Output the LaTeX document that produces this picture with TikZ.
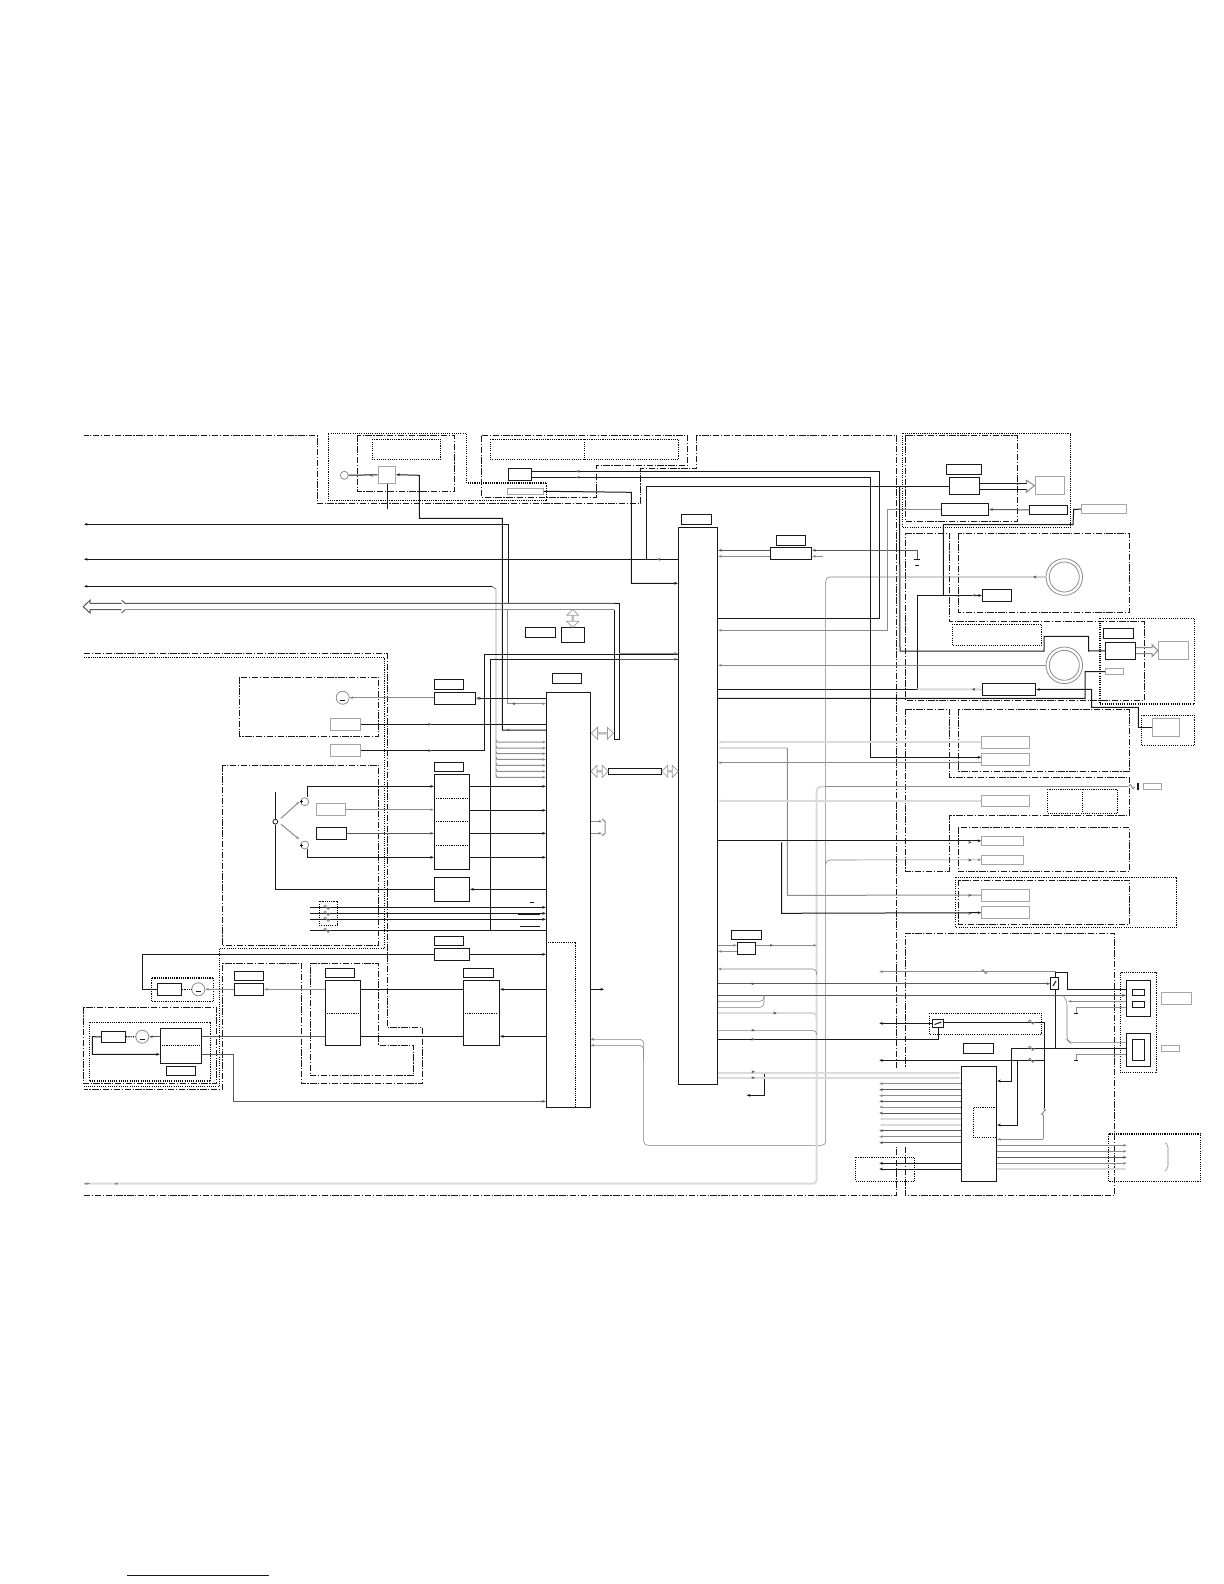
\documentclass[tikz,border=0pt]{standalone}
\usepackage{xcolor}
\usepackage{tikz}
\usetikzlibrary{arrows.meta,fit,shapes.arrows}

\begin{document}
\begin{tikzpicture}[x=0.5pt,y=-0.5pt,
    blk/.style={draw=black!90, rectangle, inner sep=0pt, line width=.5pt},
    gblk/.style={blk, draw=black!35},
    frm/.style={draw=black!90, line width=.5pt, dash pattern=on 3.2pt off .8pt on .6pt off .8pt},
    dot/.style={draw=black, line width=.55pt, dash pattern=on .55pt off .55pt},
    sig/.style={draw=black!90, line width=.5pt},
    gsig/.style={draw=black!45, line width=.5pt},
    rsig/.style={draw=black!50, line width=.28pt, rounded corners=2pt},
    msig/.style={draw=black!65, line width=.5pt},
    lsig/.style={draw=black!14, line width=1pt},
    arr/.style={-{Stealth[length=1.8pt,width=1.4pt]}},
    harr/.style={double arrow, draw=black!40, line width=.35pt, inner sep=0pt, minimum width=6pt, double arrow head extend=1.5pt, double arrow head indent=0pt},
    ring/.style={circle, draw=black!45, inner sep=0pt, line width=.4pt}
  ]
    \useasboundingbox (0,0) rectangle (1224,1584);

    % frames
    \draw[frm] (84,1195.7) -- (896.7,1195.7) -- (896.7,1147) (896.7,1068) -- (896.7,435.3) -- (696.7,435.3) -- (696.7,468.3) -- (640.7,468.3) -- (640.7,503.3) -- (317,503.3) -- (317,435.3) -- (84,435.3);
    \draw[frm] (481.7,435.3) -- (687.3,435.3) -- (687.3,465.3) -- (596.3,465.3) -- (596.3,497.7) -- (481.7,497.7) -- cycle;
    \draw[dot] (328.3,433.3) -- (466.7,433.3) -- (466.7,483) -- (546.7,483) -- (546.7,500.7) -- (328.3,500.7) -- cycle;
    \draw[frm] (357.3,435.3) rectangle (454.3,491.3);
    \draw[dot] (372.3,439.3) rectangle (440.7,459.3);
    \draw[dot] (490.3,439.3) rectangle (678.7,459.3) (584.3,439.3) -- (584.3,459.3);
    \draw[frm] (84,653.7) -- (387.3,653.7) -- (387.3,1027.7) -- (422.7,1027.7) -- (422.7,1083.7) -- (301.3,1083.7) -- (301.3,963.3) -- (222.7,963.3) -- (222.7,1089.3) -- (84,1089.3);
    \draw[dot] (84,657.3) -- (384.3,657.3) -- (384.3,948.3) -- (219.3,948.3) -- (219.3,1086.7) -- (84,1086.7);
    \draw[frm] (239.3,677.3) rectangle (378.7,736.3);
    \draw[frm] (222.3,765.3) rectangle (378.7,945.3);
    \draw[frm] (310.3,963.3) -- (378.7,963.3) -- (378.7,1045.3) -- (413.7,1045.3) -- (413.7,1075.7) -- (310.3,1075.7) -- cycle;
    \draw[frm] (83.3,1007.3) rectangle (216.7,1083.7);
    \draw[dot] (89.3,1022.3) rectangle (210.7,1081);
    \draw[dot] (151.3,978) rectangle (213.7,1001.3);
    \draw[dot] (319.3,901.3) rectangle (337.7,925.7);
    \draw[frm] (905.3,435.3) rectangle (1017.3,521.3);
    \draw[dot] (902.3,433.3) rectangle (1070.7,527.3);
    \draw[frm] (905.3,533.3) -- (949.3,533.3) -- (949.3,621.7) -- (1144.3,621.7) -- (1144.3,700.3) -- (905.3,700.3) -- cycle;
    \draw[frm] (958.3,533.3) rectangle (1129.3,612.3);
    \draw[dot] (952.3,624.3) rectangle (1041.7,645.3);
    \draw[dot] (1100,618.3) rectangle (1194.3,704);
    \draw[dot] (1141.3,715.3) rectangle (1194.3,745.3);
    \draw[frm] (905.3,709.3) -- (949.3,709.3) -- (949.3,777.3) -- (1129.3,777.3) -- (1129.3,815.3) -- (949.7,815.3) -- (949.7,871.3) -- (905.3,871.3) -- cycle;
    \draw[frm] (958.3,709.3) rectangle (1129.3,771.3);
    \draw[dot] (1047.3,789.3) rectangle (1117.3,813.3) (1082.3,789.3) -- (1082.3,813.3);
    \draw[frm] (958.3,827.3) rectangle (1129.3,871.3);
    \draw[dot] (955.7,877.3) rectangle (1176.7,927.3);
    \draw[frm] (958.3,880) rectangle (1129.3,924.7);
    \draw[frm] (905.3,1147) -- (905.3,1195.7) -- (1114.3,1195.7) -- (1114.3,933.3) -- (905.3,933.3) -- (905.3,1068);
    \draw[dot] (929.3,1013.3) rectangle (1041.7,1034.3);
    \draw[dot] (855.3,1157.3) rectangle (914.7,1181.3);
    \draw[dot] (1108.3,1134) rectangle (1200.7,1181.3);
    \draw[dot] (1120.3,972.7) rectangle (1156.7,1072.7);

    % top row
    \node[ring, minimum size=4pt] (ant) at (344.3,475.3) {};
    \node[gblk, fit={(378,466.3)(395.7,483)}] (tun) {};
    \node[blk, fit={(508.3,468.3)(531.7,480.7)}] (mem) {};
    \node[gblk, fit={(507.3,488.3)(543.3,494.3)}] (conn) {};
    \coordinate (tunb) at (387.3,509);
    \draw[sig] (ant) -- (tun);
    \draw[sig] (tun.south -| tunb) -- (tunb);

    % the two big columns
    \node[blk, fit={(678.3,527.3)(717.7,1084.3)}] (cpu) {};
    \node[blk, fit={(681.3,514.3)(711.7,524.7)}] (cpulab) {};
    \node[blk, fit={(546.3,692.3)(590.3,1107.3)}] (adc) {};
    \node[blk, fit={(552.3,673.3)(581.7,683.7)}] (adclab) {};
    \draw[dot] (548,942.3) -- (575.7,942.3) -- (575.7,1107.3);

    % left bus and long lines
    \coordinate (lft) at (84,0);
    \draw[sig,arr] (adc.west |- 0,730) -- (502.3,730) -- (502.3,518.3) -- (419.3,518.3) -- (419.3,475.3) -- (tun.east);
    \draw[sig,arr] (508.3,603.3) -- (508.3,524.3) -- (lft |- 0,524.3);
    \draw[sig,arr] (cpu.west |- 0,559.3) -- (lft |- 0,559.3);
    \draw[sig,arr] (492,586.3) -- (lft |- 0,586.3);
    \draw[gsig] (492,586.3) -- (496,589);
    \draw[lsig,rounded corners=2pt] (496,589) -- (496,777.3);
    \foreach \y in {742,748,753.7,759.3,765.3,771.3,777.3}
      \draw[gsig,arr] (496,\y-2) -- (497,\y) -- (adc.west |- 0,\y);
    \draw[msig] (619.3,603.3) -- (125,603.3) -- (121.7,600.3) (121.7,603.3) -- (90,603.3) -- (90,600.3) -- (83.3,606.7) -- (90,613) -- (90,609.7) -- (121.7,609.7) (121.7,613) -- (125,609.7);
    \draw[gsig] (125,609.7) -- (614.3,609.7);
    \draw[sig] (614.3,603.3) -- (619.3,603.3) -- (619.3,739.3) -- (614.3,739.3) -- (614.3,609.7);
    \draw[gsig,arr] (507.3,609.7) -- (507.3,703.7) -- (adc.west |- 0,703.7);
    \node[blk, fit={(525.3,627.3)(555.3,637.3)}] (dramlab) {};
    \node[blk, fit={(561.3,627.3)(584.7,642.3)}] (dram) {};
    \node[harr, rotate=90, minimum height=9pt] (dramarr) at (572.7,618.3) {};

    % head block
    \node[ring, minimum size=6.5pt] (vco) at (342.7,697.7) {};
    \node[blk, fit={(434.3,692.3)(475.7,704.3)}] (pll) {};
    \node[blk, fit={(434.3,679.3)(463.3,689.3)}] (plllab) {};
    \node[gblk, fit={(330.7,718.3)(360.7,730.7)}] (sen1) {};
    \node[gblk, fit={(330.7,744.7)(360.7,756.7)}] (sen2) {};
    \draw[gsig,arr] (pll.west |- vco) -- (vco);
    \draw[sig,arr] (adc.west |- pll) -- (pll);
    \draw[sig] (sen1) -- (adc.west |- sen1);
    \draw[sig] (sen2) -- (484.3,750.7) -- (484.3,654.3) -- (cpu.west |- 0,654.3);
    \draw[gsig,arr] (619.3,653.3) -- (cpu.west |- 0,653.3);
    \draw[sig] (310,930.3) -- (adc.west |- 0,930.3);
    \draw[sig] (490.3,930.3) -- (490.3,659.3) -- (cpu.west |- 0,659.3);
    \draw[msig,arr] (619.3,659.3) -- (cpu.west |- 0,659.3);

    % amplifier block
    \node[blk, fit={(434.3,774.3)(469.7,869.3)}] (amp) {};
    \node[blk, fit={(434.3,762.3)(463.7,771.7)}] (amplab) {};
    \draw[dot] (436,798.3) -- (468,798.3) (436,821.7) -- (468,821.7) (436,845.3) -- (468,845.3);
    \node[blk, fit={(434.3,877.3)(469.7,901.3)}] (hold) {};
    \node[gblk, fit={(316.3,803.7)(345.7,815.7)}] (drv1) {};
    \node[blk, fit={(316.3,827.3)(346.7,839.3)}] (drv2) {};
    \node[ring, minimum size=4pt] (q1) at (304.7,801.7) {};
    \node[ring, minimum size=4pt] (q2) at (304.7,845) {};
    \node[ring, draw=black!90, minimum size=2.4pt] (lamp) at (275.3,821.7) {};
    \draw[sig] (299.5,801.7) -- (302.5,801.7) (301,800.2) -- (301,803.2) (299.5,845) -- (302.5,845) (301,843.5) -- (301,846.5);
    \draw[sig,arr] (307.3,797) -- (307.3,786.3) -- (amp.west |- 0,786.3);
    \draw[sig,arr] (307.3,848.5) -- (307.3,857.3) -- (amp.west |- 0,857.3);
    \draw[gsig,arr] (drv1) -- (amp.west |- drv1);
    \draw[msig,arr] (drv2) -- (amp.west |- drv2);
    \draw[sig] (275.3,792.3) -- (lamp) -- (275.3,889.3) -- (hold.west);
    \draw[gsig,arr] (281,818.3) -- (299.3,801.7);
    \draw[gsig,arr] (281,824.3) -- (299.3,839.3);
    \draw[sig,arr] (amp.east |- 0,786.3) -- (adc.west |- 0,786.3);
    \foreach \y in {810.3,833.3,857.3}
      \draw[sig,arr] (amp.east |- 0,\y) -- (adc.west |- 0,\y);
    \draw[sig,arr] (adc.west |- hold) -- (hold);
    \foreach \y in {907.3,913.3,919.3}
      \draw[sig,arr] (310,\y) -- (adc.west |- 0,\y);
    \draw[sig,line width=.3pt] (530,902.3) -- (534,902.3);
    \draw[sig,line width=1pt] (518,914) -- (540,914);
    \draw[sig] (520,926.7) -- (540,926.7);

    % power supply side
    \node[blk, fit={(434.3,948.3)(469.7,960.3)}] (pick) {};
    \node[blk, fit={(434.3,936.3)(463.7,945.7)}] (picklab) {};
    \node[blk, fit={(157.3,983.3)(181.7,995.3)}] (hdr1) {};
    \node[ring, minimum size=6.5pt] (mot1) at (198.3,989.3) {};
    \node[blk, fit={(234.3,983.3)(263.7,995.3)}] (mdrv) {};
    \node[blk, fit={(234.3,971.3)(263.7,980.3)}] (mdrvlab) {};
    \node[blk, fit={(325.3,980.3)(360.7,1045.3)}] (ram1) {};
    \node[blk, fit={(325.3,968.3)(354.7,977.7)}] (ram1lab) {};
    \node[blk, fit={(463.3,980.3)(499.7,1045.3)}] (ram2) {};
    \node[blk, fit={(463.3,968.3)(493.7,977.7)}] (ram2lab) {};
    \draw[dot] (327,1013.3) -- (359,1013.3) (465,1013.3) -- (498,1013.3);
    \node[blk, fit={(101.3,1031.3)(125.7,1042.3)}] (hdr2) {};
    \node[ring, minimum size=6.5pt] (mot2) at (142.3,1036.7) {};
    \node[blk, fit={(160.3,1028.3)(201.7,1063.3)}] (drum) {};
    \node[blk, fit={(166.3,1066.3)(195.7,1075.7)}] (drumlab) {};
    \draw[dot] (162,1045.7) -- (200,1045.7);
    \foreach \x/\y in {342.7/697.7,198.3/989.3,142.3/1036.7}
      \draw[sig] (\x-2.5,\y+2.5) -- (\x+2.5,\y+2.5);
    \draw[sig] (hdr1.west) -- (142.3,989.3) -- (142.3,954.3) -- (pick.west);
    \draw[sig,arr] (pick.east) -- (adc.west |- pick);
    \draw[dot] (hdr1) -- (mot1);
    \draw[gsig,arr] (mdrv.west) -- (mot1.east);
    \draw[gsig,arr] (ram1.west |- mdrv) -- (mdrv);
    \draw[sig] (ram1.east |- 0,989.3) -- (ram2.west |- 0,989.3);
    \draw[sig] (ram1.east |- 0,1036.3) -- (ram2.west |- 0,1036.3);
    \draw[sig,arr] (adc.west |- 0,989.3) -- (ram2.east |- 0,989.3);
    \draw[sig,arr] (adc.west |- 0,1036.3) -- (ram2.east |- 0,1036.3);
    \draw[dot] (hdr2) -- (mot2);
    \draw[msig,arr] (drum.west |- mot2) -- (mot2.east);
    \draw[sig,arr] (hdr2.west) -- (92.3,1036.7) -- (92.3,1054.3) -- (drum.west |- 0,1054.3);
    \draw[msig] (drum.east |- 0,1036.3) -- (ram1.west |- 0,1036.3);
    \draw[msig,arr] (drum.east |- 0,1054.3) -- (233.7,1054.3) -- (233.7,1101.3) -- (adc.west |- 0,1101.3);

    % between the columns
    \node[blk, fit={(608.3,768.3)(661.7,774.3)}] (link) {};
    \node[harr, minimum height=11pt] (busarr) at (602.4,733.3) {};
    \node[harr, minimum height=8.6pt] (linkl) at (599.6,771.3) {};
    \node[harr, minimum height=8.2pt] (linkr) at (670,771.3) {};
    \foreach \y in {821.3,833.3}
      \draw[gsig,arr] (adc.east |- 0,\y) -- (602,\y);
    \draw[gsig] (602,819) -- (605,821.3) -- (605,833.3) -- (602,835.7);
    \draw[sig,arr] (adc.east |- 0,989.3) -- (604,989.3);
    \draw[sig,arr] (conn.east) -- (631.3,492.3) -- (631.3,583.3) -- (cpu.west |- 0,583.3);
    \draw[sig] (mem.east |- 0,471.3) -- (879.3,471.3) -- (879.3,618.3) -- (cpu.east |- 0,618.3);

    % right of the big column
    \node[blk, fit={(770.3,547.3)(811.7,559.3)}] (flash) {};
    \node[blk, fit={(776.3,535.3)(805.7,545.3)}] (flashlab) {};
    \coordinate (gnd) at (917.3,565.7);
    \draw[msig,arr] (flash.west |- 0,550.3) -- (cpu.east |- 0,550.3);
    \draw[gsig,arr] (flash.west |- 0,556.3) -- (cpu.east |- 0,556.3);
    \draw[msig,arr] (917.3,559.3) -- (917.3,550.3) -- (flash.east |- 0,550.3);
    \draw[gsig,arr] (822.7,556.3) -- (flash.east |- 0,556.3);
    \draw[sig] (914.3,559.3) -- (920.3,559.3);
    \draw[sig] (915.3,565.7) -- (919.3,565.7);

    % upper right
    \node[blk, fit={(949.3,477.3)(979.7,494.3)}] (lcd) {};
    \node[blk, fit={(946.3,464.3)(981.7,474.3)}] (lcdlab) {};
    \node[gblk, fit={(1035,476.7)(1064.7,494.3)}] (panel) {};
    \node[blk, fit={(941.3,503.3)(988.7,515.3)}] (kbd) {};
    \node[blk, fit={(1029.3,505.3)(1067.7,514.7)}] (keys) {};
    \node[gblk, fit={(1081.7,504.7)(1126.7,513.7)}] (opt) {};
    \draw[sig] (lcd.east |- 0,483.3) -- (1027,483.3) (lcd.east |- 0,489.3) -- (1027,489.3);
    \draw[gsig] (1026,480) -- (1027,483.3) (1026,492.7) -- (1027,489.3) (1026,480) -- (panel.west) -- (1026,492.7);
    \draw[gsig,arr] (kbd.west) -- (887.7,509.3) -- (887.7,630.3) -- (cpu.east |- 0,630.3);
    \draw[msig,arr] (keys) -- (kbd);
    \draw[sig] (646.3,559.3) -- (646.3,486.3) -- (lcd.west |- 0,486.3);
    \node[blk, fit={(982.3,589.3)(1011.7,601.7)}] (knob) {};
    \node[blk, fit={(982.3,683.3)(1035.7,695.7)}] (adj) {};
    \draw[sig] (943.3,595.5) -- (943.3,524.7) -- (1073,524.7) -- (1073.7,509.3) -- (opt.west);
    \draw[sig,arr] (cpu.east |- 0,689.3) -- (917.3,689.3) -- (917.3,595.5) -- (knob.west);
    \draw[lsig] (917.3,689.3) -- (adj.west);
    \node[ring, minimum size=18.3pt] (disc1o) at (1064.3,577) {};
    \node[ring, minimum size=15pt] (disc1i) at (1064.3,577) {};
    \node[ring, minimum size=18.3pt] (disc2o) at (1064.3,665.3) {};
    \node[ring, minimum size=15pt] (disc2i) at (1064.3,665.3) {};
    \draw[gsig,arr] (disc2o) -- (cpu.east |- disc2o);
    \node[blk, fit={(1105.3,642.3)(1135.7,659.3)}] (video) {};
    \node[blk, fit={(1103.3,628.3)(1133.3,638.3)}] (videolab) {};
    \node[gblk, fit={(1158.3,641.7)(1188.3,659.3)}] (vout) {};
    \node[gblk, fit={(1105.3,668.3)(1123.3,674.7)}] (vsub) {};
    \node[gblk, fit={(1152.3,718.3)(1179.3,736.3)}] (aout) {};
    \draw[sig] (899.5,486.3) -- (900,651) -- (1044,651) -- (1044,636.3) -- (1088.7,636.3) -- (1088.7,651) -- (video.west);
    \draw[gsig] (video.east |- 0,647.7) -- (1152,647.7) -- (1152,644.5) -- (vout.west) -- (1152,656.7) -- (1152,653.7) -- (video.east |- 0,653.7);
    \draw[sig] (cpu.east |- 0,698.3) -- (1085,698.3) -- (1085,671.7) -- (vsub.west);
    \draw[sig,arr] (1138.3,727.3) -- (1138.3,707.3) -- (1091.7,707.3) -- (1091.7,689.3) -- (adj.east);
    \draw[sig] (1138.3,727.3) -- (aout.west);

    % gray lines
    \draw[rsig,arr] (disc1o.west) -- (825.7,577) -- (825.7,1145.3) -- (643.7,1145.3) -- (643.7,1039.3) -- (adc.east |- 0,1039.3);
    \draw[rsig,arr] (643.7,1060) -- (643.7,1045.3) -- (adc.east |- 0,1045.3);
    \draw[lsig,rounded corners=2pt] (84,1183.7) -- (816.7,1183.7) -- (816.7,786.7) -- (825,786.7);
    \draw[gsig] (825,786.7) -- (1128,786.7);
    \draw[gsig,arr] (90,1183.7) -- (84,1183.7);
    \draw[gsig,arr] (118,1183.7) -- (114,1183.7);

    % rectangles in the middle right
    \node[gblk, fit={(981.7,736.3)(1029,748.3)}] (st1) {};
    \node[gblk, fit={(981.7,753.3)(1029,765.7)}] (st2) {};
    \node[gblk, fit={(981.7,795)(1029,806.7)}] (st3) {};
    \node[gblk, fit={(1143.3,783.3)(1161.7,789.7)}] (st4) {};
    \node[gblk, fit={(981.7,836.3)(1023.3,845.3)}] (st5) {};
    \node[gblk, fit={(981.7,855.3)(1023.3,864.3)}] (st6) {};
    \node[gblk, fit={(981.7,889)(1029,901.3)}] (st7) {};
    \node[gblk, fit={(981.7,906.7)(1029,918.7)}] (st8) {};
    \draw[sig,line width=1pt] (1138.3,783.3) -- (1138.3,789.7);
    \draw[sig,arr] (mem.east |- 0,477.3) -- (870.3,477.3) -- (870.3,757.3) -- (st2.west |- 0,757.3);
    \draw[lsig,arr] (st1.west) -- (cpu.east |- st1);
    \draw[lsig,arr] (787.3,748) -- (cpu.east |- 0,748);
    \draw[gsig] (787.3,748) -- (787.3,895.3) -- (st7.west);
    \draw[gsig,arr] (st2.west |- 0,762.7) -- (cpu.east |- 0,762.7);
    \draw[lsig,arr] (st3.west) -- (cpu.east |- st3);
    \draw[sig,arr] (cpu.east |- st5) -- (st5);
    \draw[sig,arr] (781.7,842.3) -- (781.7,913.3) -- (st8.west);
    \draw[rsig,arr] (825.7,863) -- (825.7,860) -- (st6.west);

    % timing block under the big column
    \node[blk, fit={(737.3,942.3)(755.7,954.3)}] (gen) {};
    \node[blk, fit={(731.3,930.3)(761.7,939.3)}] (genlab) {};
    \coordinate (genout) at (816.7,945.3);
    \draw[gsig,arr] (cpu.east |- 0,945.3) -- (gen.west |- 0,945.3);
    \draw[gsig,arr] (gen.west |- 0,951.3) -- (cpu.east |- 0,951.3);
    \draw[gsig,arr] (gen.east |- genout) -- (genout);
    \draw[rsig,arr] (816.7,975) -- (816.7,969) -- (cpu.east |- 0,969);
    \draw[lsig,rounded corners=2pt] (cpu.east |- 0,1013) -- (816.7,1013) -- (816.7,1018);
    \draw[rsig] (cpu.east |- 0,1030.3) -- (816.7,1030.3) -- (816.7,1035);

    % power section
    \node[blk, fit={(961.3,1066.3)(996.7,1181.3)}] (pwr) {};
    \node[blk, fit={(963.3,1043.3)(993.7,1053.3)}] (pwrlab) {};
    \draw[dot] (996.7,1107.3) -- (973.3,1107.3) -- (973.3,1137.3) -- (996.7,1137.3);
    \node[blk, fit={(1050.7,977.7)(1058.7,989.3)}] (sw1) {};
    \node[blk, fit={(932.3,1019.3)(943.7,1027.3)}] (sw2) {};
    \node[blk, fit={(1126.3,980.3)(1150.7,1016.7)}] (jack1) {};
    \node[blk, fit={(1132.3,989.3)(1144.7,995.3)}] (jack1a) {};
    \node[blk, fit={(1132.3,1001.3)(1144.7,1007.7)}] (jack1b) {};
    \node[blk, fit={(1126.3,1033.3)(1150.7,1066.7)}] (jack2) {};
    \node[blk, fit={(1132.3,1039.3)(1144.7,1060.7)}] (jack2a) {};
    \node[gblk, fit={(1161.3,992.3)(1191.3,1004.3)}] (jlab1) {};
    \node[gblk, fit={(1161.3,1045.3)(1179.3,1051.3)}] (jlab2) {};
    \draw[sig] (1053,986) -- (1056,981);
    \draw[sig] (934.5,1024.5) -- (941.5,1022);
    \coordinate (pl) at (879.3,0);
    \draw[msig,arr] (cpu.east |- 0,983.7) -- (sw1.west |- 0,983.7);
    \draw[gsig,arr] (1055.7,971.7) -- (pl |- 0,971.7);
    \draw[sig] (1055.7,972.7) -- (1067.3,972.7) -- (1067.3,989.3) -- (jack1.west |- 0,989.3);
    \draw[sig] (1055.7,971.7) -- (1055.7,977.7) (1055.7,989.3) -- (1055.7,1048.3);
    \draw[msig,arr] (cpu.east |- 0,995.3) -- (jack1.west |- 0,995.3);
    \draw[rsig] (1063,995.3) -- (1067,1001) -- (1067,1040) -- (1070,1042.7) -- (jack2.west |- 0,1042.7);
    \draw[gsig,arr] (jack1.west |- 0,1001.3) -- (1068,1001.3);
    \draw[rsig] (cpu.east |- 0,1001.3) -- (764,1001.3) -- (764,995.3);
    \draw[rsig] (cpu.east |- 0,1007.3) -- (764,1007.3) -- (764,995.3);
    \draw[gsig] (1076,1013) -- (1076,1007.3) -- (jack1.west |- 0,1007.3);
    \draw[gsig] (1076,1060.7) -- (1076,1054.3) -- (jack2.west |- 0,1054.3);
    \draw[sig] (1074,1013.3) -- (1078,1013.3) (1074,1060.7) -- (1078,1060.7);
    \draw[sig,arr] (sw2.west) -- (pl |- sw2);
    \draw[sig] (sw2.east |- 0,1022) -- (1044,1022) -- (1044,1108.3);
    \draw[gsig] (1043.3,1116) -- (1043.3,1139.3);
    \draw[gsig,arr] (1043.3,1139.3) -- (pwr.east |- 0,1139.3);
    \draw[sig] (cpu.east |- 0,1039.3) -- (938.7,1039.3) -- (sw2.south -| 938.7,0);
    \draw[sig] (1011.3,1048.3) -- (jack2.west |- 0,1048.3);
    \draw[sig,arr] (1011.3,1048.3) -- (1011.3,1081) -- (pwr.east |- 0,1081);
    \draw[sig,arr] (1017.3,1060.3) -- (pl |- 0,1060.3);
    \draw[sig] (1017.3,1060.3) -- (1044,1060.3);
    \draw[sig,arr] (1017.3,1060.3) -- (1017.3,1125) -- (pwr.east |- 0,1125);
    \draw[sig] (cpu.east |- 0,1072.7) -- (764.3,1072.7);
    \draw[sig,arr] (764.3,1072.7) -- (764.3,1095.3) -- (746.7,1095.3);
    \draw[lsig,arr] (cpu.east |- 0,1072.7) -- (pwr.west |- 0,1072.7);
    \draw[lsig,arr] (cpu.east |- 0,1077.7) -- (pwr.west |- 0,1077.7);
    \foreach \y/\c in {1083.7/gsig,1089.7/msig,1095.7/gsig,1101.3/msig,1107/gsig,1113/msig,1119/lsig,1124.7/lsig,1130.7/msig,1136.7/gsig,1142.7/msig,1163.3/sig,1169/sig}
      \draw[\c,arr] (pwr.west |- 0,\y) -- (pl |- 0,\y);
    \coordinate (pr) at (1126.7,0);
    \foreach \y/\c in {1145.3/gsig,1151.3/gsig,1157.3/msig,1163.3/gsig,1169/lsig}
      \draw[\c,arr] (pwr.east |- 0,\y) -- (pr |- 0,\y);
    \draw[rsig,rounded corners=1pt] (1165,1142.7) -- (1168,1145) -- (1168,1168.3) -- (1165,1171);

    % wave marks on the lines
    \foreach \x/\y in {984.3/971.7,1031.3/1022,1031.3/1048.3,1031.3/1060.3,326.7/907.3,326.7/913.3,326.7/919.3,326.7/930.3,1131.7/786.7}
      \draw[gsig] (\x-3,\y) sin (\x-1.5,\y-2) cos (\x,\y) sin (\x+1.5,\y+2) cos (\x+3,\y);
    \draw[gsig] (1043.5,1108.3) sin (1045.5,1110) cos (1043.5,1112) sin (1041.5,1114) cos (1043.5,1116);

    % small flow marks along the lines
    \foreach \x/\y in {369.3/475.3,477/698.3,971.7/595.3,971.7/689.3,576/471.3,576/477.3,656.7/559.3,511.7/703.7,506/730,1033/577}
      \draw[msig,arr] (\x+2,\y) -- (\x,\y);
    \foreach \x/\y in {431.7/724.3,431.7/750.7,755/983.7,755/1030.3,776.7/1013,755/1039.3,755/1071.7,755/1077.7,773.3/945.3,971.7/842.3,971.7/860,971.7/895.3,971.7/913.3}
      \draw[msig,arr] (\x-2,\y) -- (\x,\y);

    % page link at the foot
    \coordinate (footl) at (127,1575);
    \coordinate (footr) at (269,1575);
    \draw[draw={rgb,255:red,10;green,10;blue,140}, line width=.5pt] (footl) -- (footr);
\end{tikzpicture}
\end{document}
